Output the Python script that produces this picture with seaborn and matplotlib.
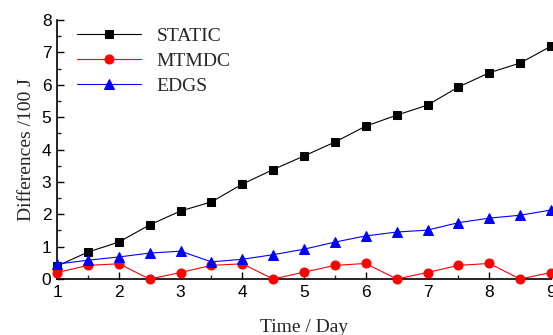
import matplotlib
matplotlib.use("Agg")
import matplotlib.pyplot as plt
import seaborn as sns
import numpy as np
import pandas as pd
from matplotlib.ticker import MultipleLocator

days = [1, 1.5, 2, 2.5, 3, 3.5, 4, 4.5, 5, 5.5, 6, 6.5, 7, 7.5, 8, 8.5, 9]
static = [0.40, 0.83, 1.14, 1.67, 2.10, 2.38, 2.93, 3.38, 3.80, 4.23, 4.72, 5.06, 5.37, 5.93, 6.37, 6.67, 7.19]
mtmdc = [0.20, 0.42, 0.47, 0.00, 0.20, 0.42, 0.47, 0.00, 0.21, 0.42, 0.48, 0.00, 0.20, 0.42, 0.48, 0.00, 0.20]
edgs = [0.46, 0.58, 0.68, 0.80, 0.86, 0.53, 0.61, 0.75, 0.92, 1.14, 1.33, 1.45, 1.51, 1.74, 1.88, 1.97, 2.13]
series_names = ["STATIC", "MTMDC", "EDGS"]
x_ticks = [1, 2, 3, 4, 5, 6, 7, 8, 9]
y_ticks = [0, 1, 2, 3, 4, 5, 6, 7, 8]

sns.set_style("white")
plt.rcParams['font.family'] = ['Liberation Sans', 'DejaVu Sans']

fig = plt.figure(figsize=(5.53, 3.35), dpi=100)
ax = fig.add_axes([57/553, 1 - 279/335, (551-57)/553, (279-20)/335])

styles = [
    (static, "black", "s", 5.5),
    (mtmdc, "red", "o", 6.5),
    (edgs, "blue", "^", 7),
]
for name, (vals, col, mk, ms) in zip(series_names, styles):
    sns.lineplot(x=days, y=vals, ax=ax, color=col, marker=mk, markersize=ms,
                 markeredgecolor=col, linewidth=0.8, label=name, clip_on=False,
                 zorder=3)

ax.set_xlim(1, 9)
ax.set_ylim(0, 8)
ax.set_xticks(x_ticks)
ax.set_yticks(y_ticks)
ax.xaxis.set_minor_locator(MultipleLocator(0.5))
ax.yaxis.set_minor_locator(MultipleLocator(0.5))
ax.tick_params(which='major', direction='in', length=5, width=1, labelsize=12.5,
               colors='black', pad=4)
ax.tick_params(which='minor', direction='in', length=3, width=1)
ax.tick_params(axis='x', which='both', bottom=True)
ax.tick_params(axis='y', which='both', left=True)
for s in ['top', 'right']:
    ax.spines[s].set_visible(False)
for s in ['left', 'bottom']:
    ax.spines[s].set_color('black')
    ax.spines[s].set_linewidth(1.2)

ax.set_xlabel("Time / Day", fontsize=14, family=['Liberation Serif'], labelpad=14)
ax.set_ylabel("Differences /100 J", fontsize=14, family=['Liberation Serif'], labelpad=5)

leg = ax.legend(loc='upper left', bbox_to_anchor=(77/553, 1 - 27/335),
                bbox_transform=fig.transFigure, borderpad=0, borderaxespad=0,
                frameon=False, handlelength=3.3, handletextpad=0.8,
                labelspacing=0.38,
                prop={'family': 'Liberation Serif', 'size': 14})

fig.savefig("out.png", dpi=100)
